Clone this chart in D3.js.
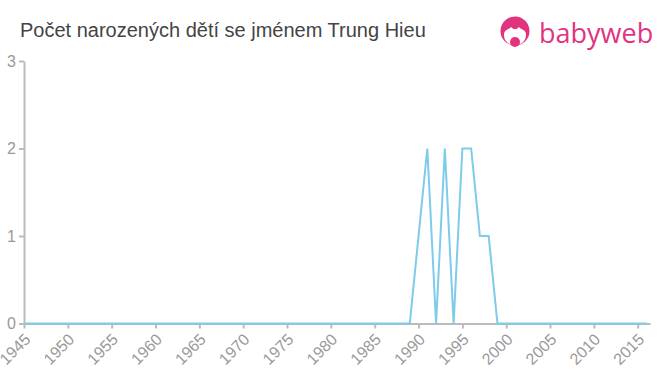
<!DOCTYPE html>
<html>
<head>
<meta charset="utf-8">
<script src="https://cdn.jsdelivr.net/npm/d3@7"></script>
<style>
  body { margin: 0; background: #fff; }
  svg { display: block; font-family: "Liberation Sans", Arial, sans-serif; }
</style>
</head>
<body>
<div id="chart"></div>
<script>
// Data

let years = d3.range(1945, 2017);
let nonZero = { 1990: 1, 1991: 2, 1992: 0, 1993: 2, 1994: 0, 1995: 2, 1996: 2, 1997: 1, 1998: 1 };
let counts = years.map(y => nonZero[y] !== undefined ? nonZero[y] : 0);
let xTicks = d3.range(1945, 2020, 5);
let yTicks = [0, 1, 2, 3];

// Canvas

let width = 660;
let height = 375;
let margin = { left: 24, right: 10, top: 61, bottom: 52 };

let svg = d3.select('#chart')
    .append('svg')
    .attr('width', width)
    .attr('height', height);

// Scales

let x = d3.scaleLinear()
    .domain([1945, 2016.4])
    .range([margin.left, width - margin.right]);

let y = d3.scaleLinear()
    .domain([0, 3])
    .range([height - margin.bottom + 0.5, margin.top]);

// Title

svg.append('text')
    .attr('x', 20)
    .attr('y', 37)
    .attr('font-size', 20)
    .attr('fill', '#444')
    .text('Počet narozených dětí se jménem Trung Hieu');

// Logo

let logo = svg.append('g').attr('transform', 'translate(515,31)');
let pink = '#e2337f';
logo.append('circle').attr('r', 14.5).attr('fill', pink);
logo.append('path')
    .attr('d', 'M-11,4 C-11,-2 -6,-1 -4,-4 C-1,-1 1,-1 4,-4 C6,-1 11,-2 11,4 C11,11 5,14 0,14 C-5,14 -11,11 -11,4 Z')
    .attr('fill', '#fff');
logo.append('circle').attr('cy', 11).attr('r', 5).attr('fill', pink);
svg.append('text')
    .attr('x', 539)
    .attr('y', 43)
    .attr('font-size', 27)
    .attr('font-family', '"Open Sans", "Noto Sans", sans-serif')
    .attr('fill', pink)
    .text('babyweb');

// Axes

let xAxis = svg.append('g')
    .attr('transform', `translate(0,${y(0)})`)
    .call(d3.axisBottom(x).tickValues(xTicks).tickFormat(d3.format('d')).tickSize(5).tickSizeOuter(0));

xAxis.selectAll('text')
    .attr('font-size', 16)
    .attr('fill', '#999')
    .attr('text-anchor', 'end')
    .attr('x', 0)
    .attr('y', 0)
    .attr('dy', '0.35em')
    .attr('transform', 'translate(3,13) rotate(-45)');

let yAxis = svg.append('g')
    .attr('transform', `translate(${margin.left},0)`)
    .call(d3.axisLeft(y).tickValues(yTicks).tickFormat(d3.format('d')).tickSize(5).tickSizeOuter(0));

yAxis.selectAll('text')
    .attr('font-size', 16)
    .attr('fill', '#999');

svg.selectAll('.domain, .tick line').attr('stroke', '#bbb').attr('stroke-width', 2);

// Line

let line = d3.line()
    .x((d, i) => x(years[i]))
    .y(d => y(d));

svg.append('path')
    .datum(counts)
    .attr('d', line)
    .attr('fill', 'none')
    .attr('stroke', '#7ecbea')
    .attr('stroke-width', 2);
</script>
</body>
</html>
